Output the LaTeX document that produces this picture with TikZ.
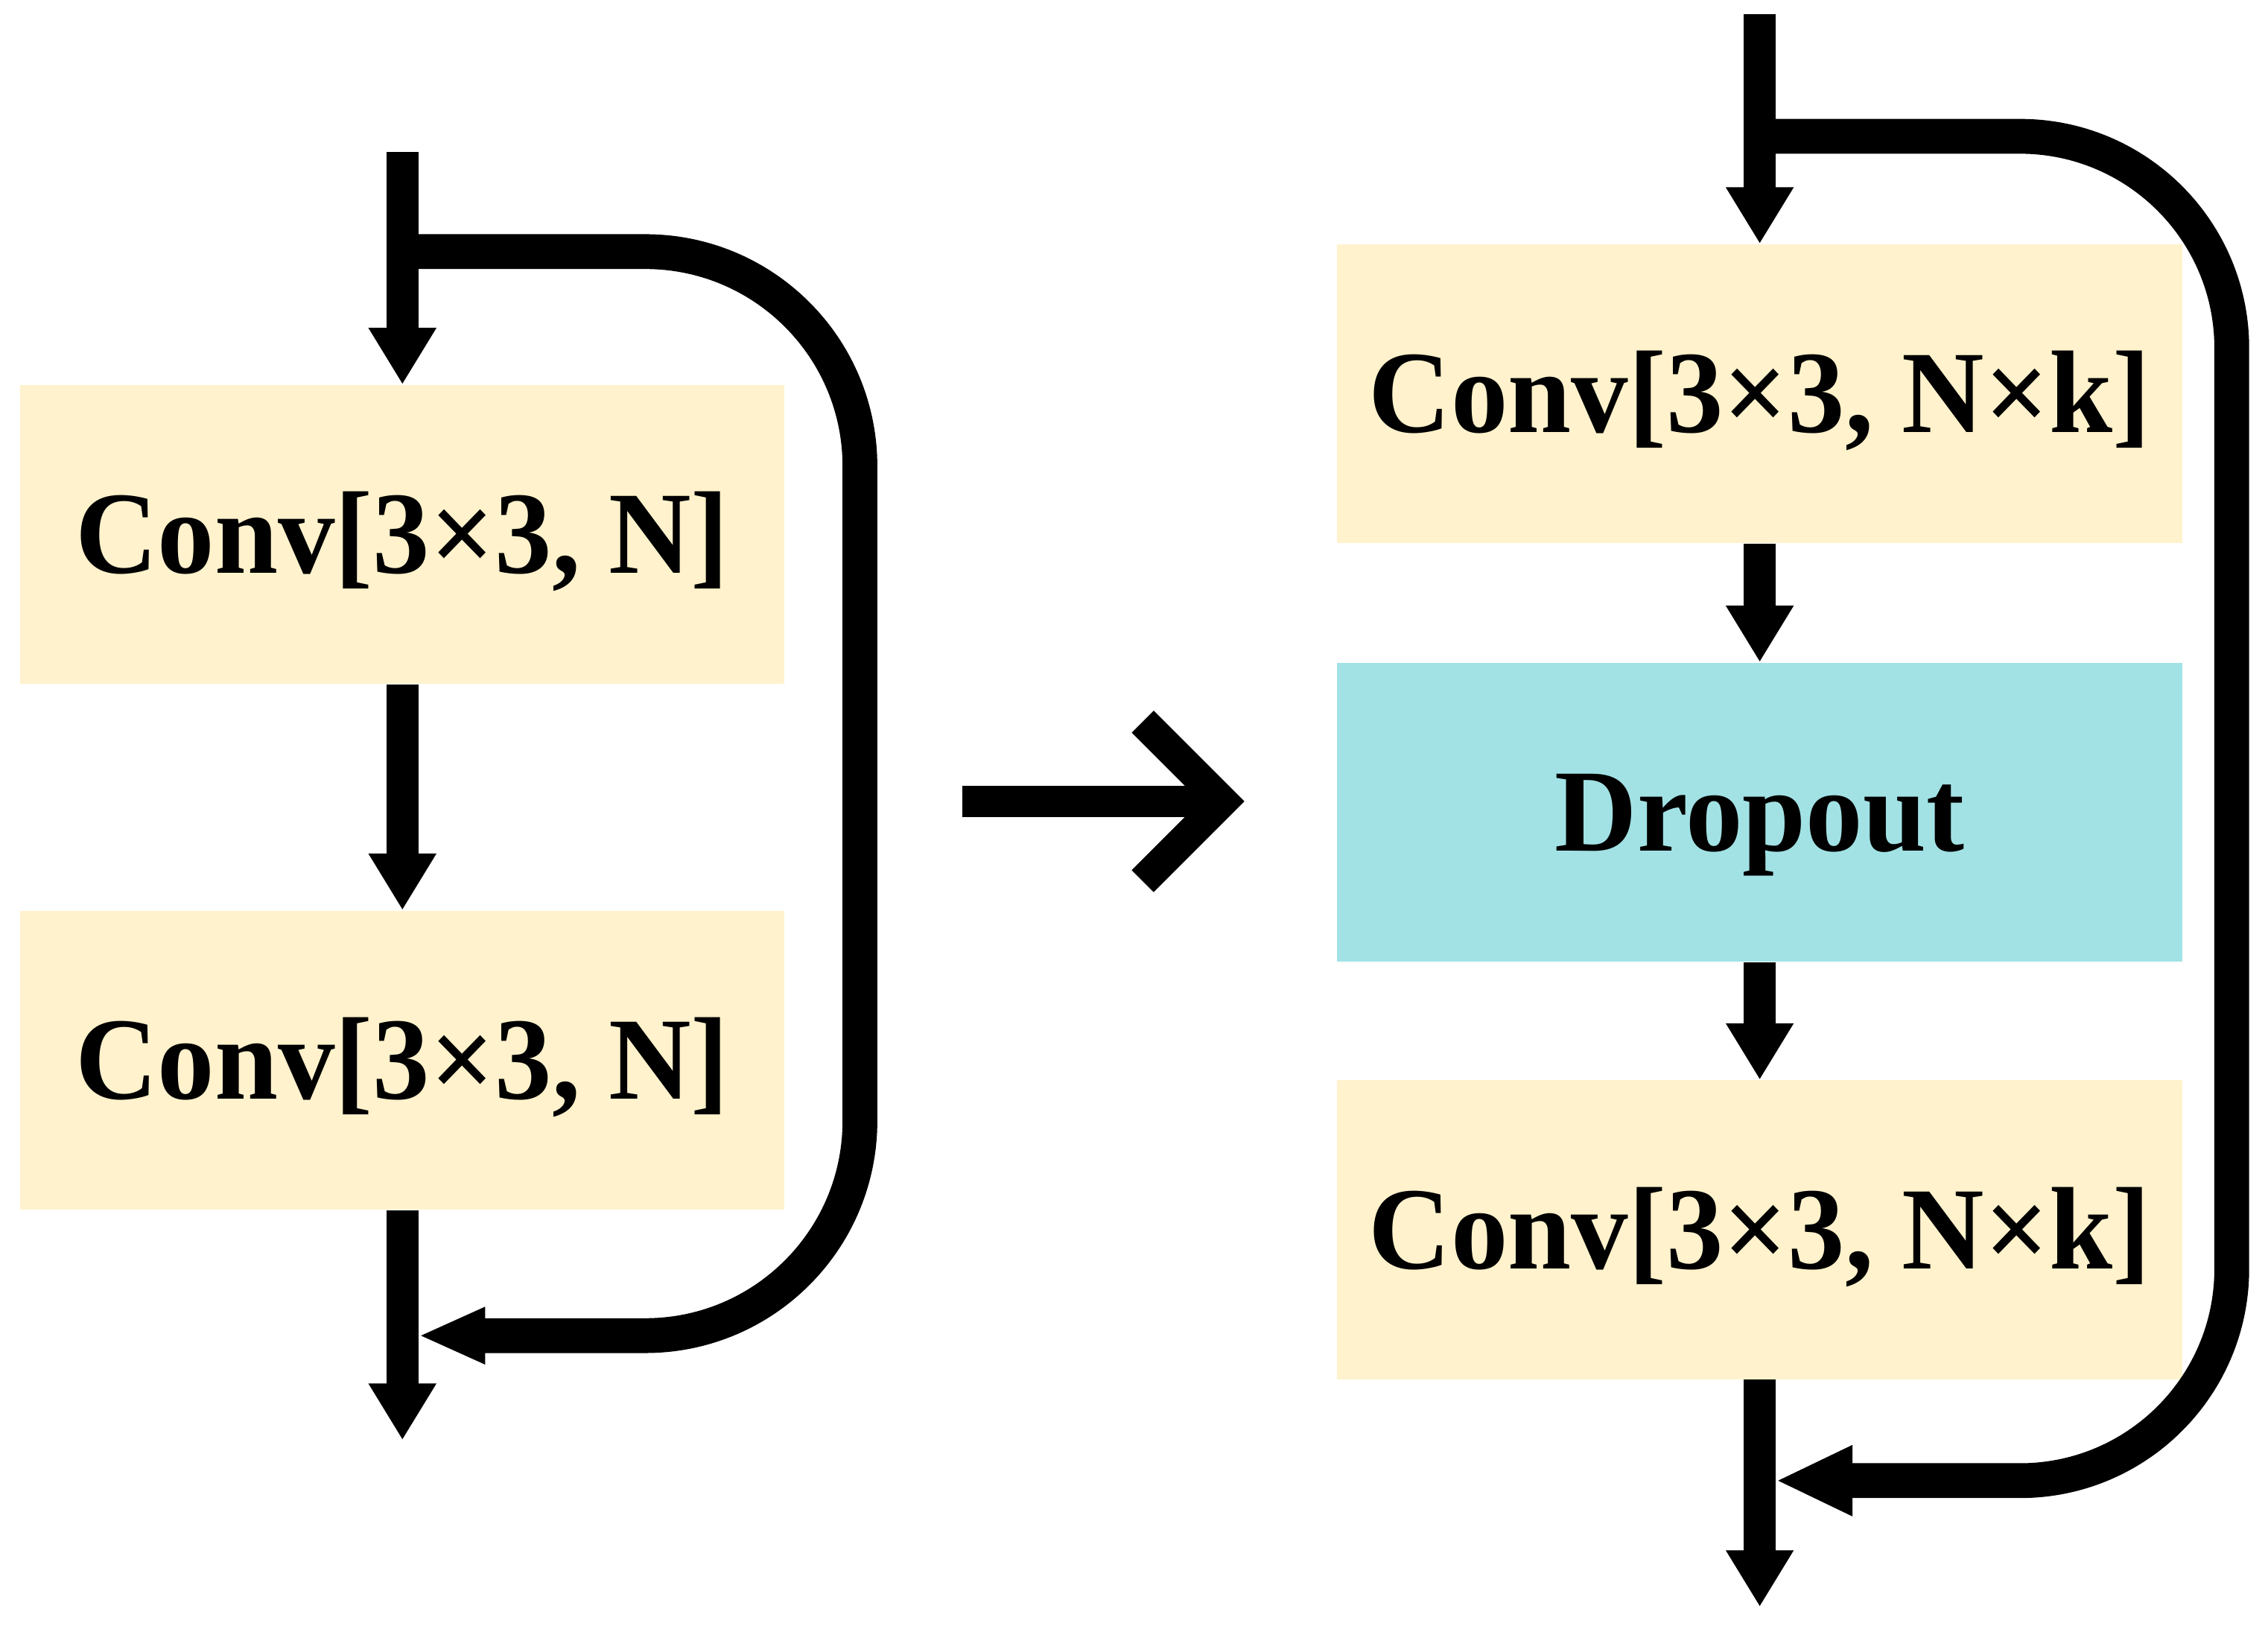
\documentclass[tikz,border=0pt]{standalone}
\usepackage{fontspec}
\setmainfont{Liberation Serif}[FakeStretch=0.97]
\usetikzlibrary{arrows.meta}
\definecolor{cream}{HTML}{FFF2CC}
\definecolor{aqua}{HTML}{A2E2E5}
\begin{document}
\begin{tikzpicture}[x=0.5pt,y=-0.5pt,
  blk/.style={inner sep=0pt, minimum height=103pt, text height=26.8pt, text depth=0pt,
    font=\fontsize{40.5}{48}\selectfont\bfseries},
  lblk/.style={blk, fill=cream, minimum width=263.5pt},
  rblk/.style={blk, fill=cream, minimum width=291.5pt},
  dblk/.style={blk, fill=aqua, minimum width=291.5pt},
  varrow/.style={line width=11pt, -{Triangle[length=19.5pt,width=22pt]}},
  skipL/.style={line width=12pt, rounded corners=74pt, -{Triangle[length=23pt,width=18pt]}},
  skipR/.style={line width=12pt, rounded corners=73pt, -{Triangle[length=26.5pt,width=22.5pt]}},
  bigarrow/.style={line width=10.7pt, miter limit=10}]
\useasboundingbox (0,0) rectangle (1564,1121);
% left block
\node[lblk] (c1) at (277.5,368.5) {Conv[3×3, N]};
\node[lblk] (c2) at (277.5,731) {Conv[3×3, N]};
\coordinate (inL) at (277.5,105);
\coordinate (outL) at (277.5,993);
\coordinate (sL) at (277.5,173.5);
\coordinate (kL) at (593,921);
\coordinate (eL) at (288.5,921);
\draw[varrow] (inL) -- (c1.north);
\draw[varrow] (c1.south) -- (c2.north);
\draw[varrow] (c2.south) -- (outL);
\draw[skipL] (sL) -| (kL) -- (eL);
% middle arrow
\coordinate (mA) at (663.4,552.6);
\coordinate (mB) at (843,552.6);
\draw[bigarrow] (mA) -- (mB);
\draw[bigarrow] (mB) ++(-55,-55) -- (mB) -- ++(-55,55);
% right block
\node[rblk] (r1) at (1213.5,271.5) {Conv[3×3, N×k]};
\node[dblk] (d) at (1213.5,560) {Dropout};
\node[rblk] (r2) at (1213.5,848) {Conv[3×3, N×k]};
\coordinate (inR) at (1213.5,10);
\coordinate (outR) at (1213.5,1108);
\coordinate (sR) at (1213.5,94);
\coordinate (kR) at (1539,1021);
\coordinate (eR) at (1224.5,1021);
\draw[varrow] (inR) -- (r1.north);
\draw[varrow] (r1.south) -- (d.north);
\draw[varrow] (d.south) -- (r2.north);
\draw[varrow] (r2.south) -- (outR);
\draw[skipR] (sR) -| (kR) -- (eR);
\end{tikzpicture}
\end{document}
